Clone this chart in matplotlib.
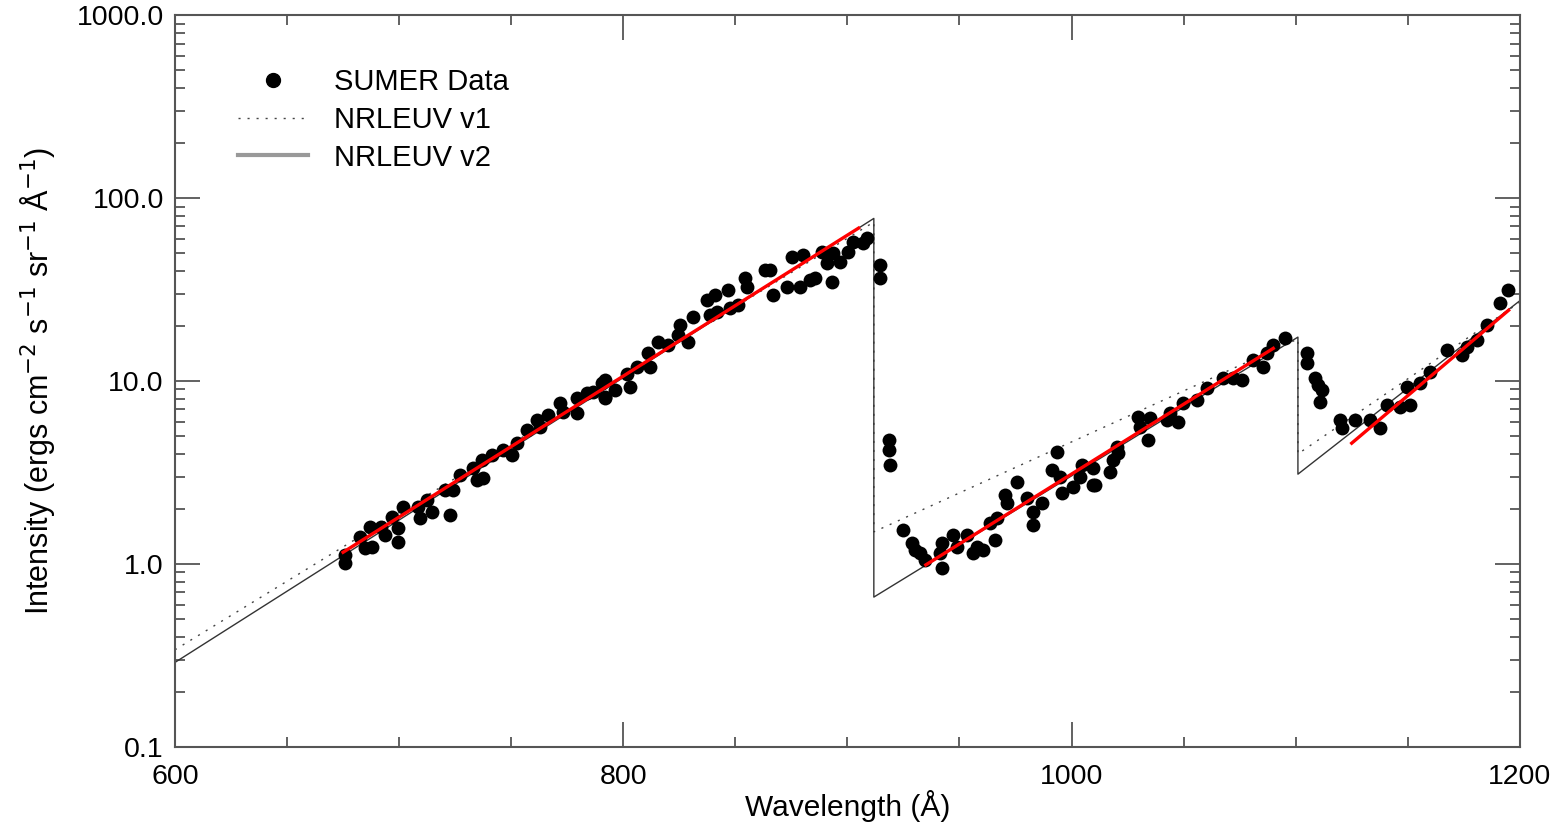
import matplotlib
matplotlib.use("Agg")
import matplotlib.pyplot as plt
from matplotlib.lines import Line2D
from matplotlib.ticker import FixedLocator, MultipleLocator, FormatStrFormatter, LogLocator, NullFormatter

plt.rcParams['font.family'] = ['Liberation Sans', 'DejaVu Sans']

# SUMER data points (wavelength in A, intensity)
sumer_wl = [675.8, 675.8, 682.5, 684.8, 687.0, 688.0, 692.0, 693.7, 696.8, 699.5,
            699.5, 701.7, 708.4, 709.3, 712.4, 714.6, 722.7, 720.4, 724.0, 727.0,
            733.0, 734.7, 737.4, 737.0, 741.4, 746.3, 750.3, 752.6, 757.0, 761.5,
            762.8, 766.4, 771.7, 773.0, 779.3, 779.3, 783.8, 786.5, 790.5, 791.8,
            791.8, 791.8, 796.3, 801.6, 803.0, 806.0, 811.0, 811.9, 815.5, 820.0,
            825.3, 824.4, 829.0, 831.0, 837.3, 840.9, 838.7, 841.8, 846.7, 847.6,
            851.2, 854.3, 855.2, 863.2, 865.4, 866.8, 873.0, 875.2, 880.1, 878.8,
            883.3, 885.5, 888.6, 890.9, 893.1, 893.5, 896.6, 900.2, 902.4, 906.9,
            908.7, 914.5, 914.5, 918.5, 918.5, 919.0,
            924.8, 928.8, 930.1, 932.3, 934.6, 942.2, 942.2, 941.3, 947.0, 948.8,
            953.3, 956.0, 957.8, 960.4, 963.6, 965.8, 966.7, 970.3, 971.1, 975.6,
            980.1, 982.8, 982.8, 986.7, 993.4, 991.2, 994.8, 995.7, 1000.6, 1004.6,
            1003.7, 1009.5, 1010.4, 1009.5, 1017.0, 1018.4, 1020.2, 1020.7, 1029.6, 1030.5,
            1034.0, 1035.0, 1042.5, 1043.9, 1047.4, 1049.7, 1055.9, 1060.4, 1067.5, 1072.0,
            1076.0, 1080.9, 1085.4, 1087.1, 1089.8, 1095.2, 1105.0, 1105.0, 1108.5, 1109.9,
            1111.7, 1110.8, 1119.7, 1120.6, 1126.4, 1133.1, 1137.5, 1140.7, 1146.5, 1150.9,
            1149.6, 1155.4, 1159.8, 1167.4, 1174.1, 1176.3, 1180.8, 1185.3, 1191.1, 1194.6]
sumer_int = [1.12, 1.01, 1.40, 1.22, 1.59, 1.24, 1.59, 1.44, 1.81, 1.57,
             1.32, 2.05, 2.05, 1.78, 2.24, 1.92, 1.85, 2.54, 2.54, 3.06,
             3.34, 2.88, 2.95, 3.70, 3.94, 4.20, 3.94, 4.58, 5.40, 6.13,
             5.60, 6.51, 7.58, 6.77, 8.08, 6.68, 8.60, 8.70, 9.76, 8.08,
             10.1, 8.17, 8.95, 11.0, 9.29, 11.9, 14.2, 11.9, 16.3, 15.7,
             20.2, 17.8, 16.3, 22.3, 27.7, 29.5, 22.9, 23.8, 31.4, 25.0,
             26.0, 36.6, 32.7, 40.4, 40.4, 29.5, 32.7, 47.6, 48.8, 32.7,
             35.7, 36.6, 50.7, 44.2, 34.8, 50.0, 44.7, 50.7, 57.4, 56.8,
             60.3, 43.1, 36.6, 4.76, 4.20, 3.47,
             1.53, 1.30, 1.19, 1.15, 1.05, 1.30, 0.95, 1.15, 1.44, 1.24,
             1.44, 1.15, 1.24, 1.19, 1.68, 1.35, 1.78, 2.38, 2.15, 2.81,
             2.30, 1.92, 1.63, 2.15, 4.09, 3.26, 2.99, 2.44, 2.63, 3.47,
             2.99, 2.70, 2.70, 3.35, 3.18, 3.70, 4.36, 4.04, 6.36, 5.60,
             4.76, 6.28, 6.13, 6.68, 5.96, 7.58, 7.87, 9.15, 10.4, 10.4,
             10.2, 13.0, 11.9, 14.2, 15.7, 17.2, 14.2, 12.5, 10.4, 9.5,
             8.9, 7.7, 6.13, 5.53, 6.13, 6.13, 5.53, 7.40, 7.21, 7.40,
             9.29, 9.76, 11.2, 14.8, 13.9, 15.3, 16.7, 20.2, 26.7, 31.4]

# NRLEUV model spectra (continua with Lyman and C I edges)
v1_wl = [600, 911.8, 911.8, 1101, 1101, 1200]
v1_int = [0.34, 74.0, 1.50, 17.0, 4.0, 27.0]
v2_wl = [600, 911.8, 911.8, 1101, 1101, 1200]
v2_int = [0.29, 77.5, 0.66, 17.4, 3.1, 27.5]

# linear fits (in log space) to the data
fits = [([675, 905], [1.16, 68.6]),
        ([935, 1090], [0.99, 15.1]),
        ([1125, 1195], [4.58, 24.4])]

fig = plt.figure(figsize=(15.62, 8.26), dpi=100)
ax = fig.add_axes([0.112, 0.0956, 0.861, 0.886])

ax.plot(v1_wl, v1_int, color='#444444', lw=1.0, linestyle=(0, (1.5, 5)))
ax.plot(v2_wl, v2_int, color='#333333', lw=1.0)
ax.plot(sumer_wl, sumer_int, 'o', color='black', markersize=10, markeredgewidth=0)
for fx, fy in fits:
    ax.plot(fx, fy, color='red', lw=2.4)

ax.set_yscale('log')
ax.set_xlim(600, 1200)
ax.set_ylim(0.1, 1000)
ax.xaxis.set_major_locator(FixedLocator([600, 800, 1000, 1200]))
ax.xaxis.set_minor_locator(MultipleLocator(50))
ax.yaxis.set_major_locator(LogLocator(base=10, numticks=10))
ax.yaxis.set_minor_locator(LogLocator(base=10, subs=range(2, 10), numticks=10))
ax.yaxis.set_major_formatter(FormatStrFormatter('%.1f'))
ax.yaxis.set_minor_formatter(NullFormatter())

ax.tick_params(which='both', direction='in', top=True, right=True,
               color='#555555', labelsize=20.5, width=1.3)
ax.tick_params(which='major', length=18)
ax.tick_params(axis='x', which='major', pad=12)
ax.tick_params(axis='y', which='major', pad=8)
ax.tick_params(which='minor', length=7)
for s in ax.spines.values():
    s.set_color('#555555')
    s.set_linewidth(1.5)

ax.set_xlabel('Wavelength (Å)', fontsize=21.5, labelpad=0)
ax.set_ylabel('Intensity (ergs cm$^{-2}$ s$^{-1}$ sr$^{-1}$ Å$^{-1}$)', fontsize=22, labelpad=14)

handles = [Line2D([], [], marker='o', color='black', linestyle='none', markersize=10),
           Line2D([], [], color='#444444', lw=1.0, linestyle=(0, (1.5, 5))),
           Line2D([], [], color='#999999', lw=3.0)]
ax.legend(handles, ['SUMER Data', 'NRLEUV v1', 'NRLEUV v2'], loc='upper left',
          bbox_to_anchor=(0.036, 0.948), frameon=False, fontsize=21,
          handlelength=2.4, handletextpad=0.9, labelspacing=0.34, borderpad=0, numpoints=1)

fig.savefig('out.png', dpi=100)
